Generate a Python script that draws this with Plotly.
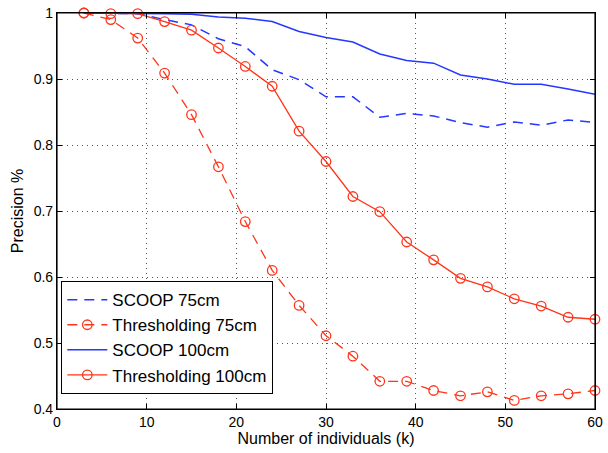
import plotly.graph_objects as go

k = [3, 6, 9, 12, 15, 18, 21, 24, 27, 30, 33, 36, 39, 42, 45, 48, 51, 54, 57, 60]
scoop_75 = [1.0, 1.0, 0.999, 0.990, 0.982, 0.961, 0.949, 0.914, 0.899, 0.873, 0.873, 0.842,
            0.848, 0.844, 0.834, 0.827, 0.835, 0.830, 0.838, 0.834]
thresh_75 = [1.0, 0.990, 0.962, 0.909, 0.846, 0.767, 0.684, 0.610, 0.557, 0.511, 0.480, 0.442,
             0.442, 0.428, 0.420, 0.426, 0.413, 0.420, 0.423, 0.428]
scoop_100 = [1.0, 1.0, 1.0, 0.999, 0.998, 0.994, 0.992, 0.987, 0.972, 0.963, 0.956, 0.938,
             0.928, 0.924, 0.906, 0.900, 0.892, 0.892, 0.885, 0.877]
thresh_100 = [1.0, 0.999, 0.999, 0.987, 0.974, 0.947, 0.919, 0.889, 0.821, 0.775, 0.722, 0.699,
              0.653, 0.626, 0.598, 0.585, 0.567, 0.556, 0.539, 0.536]

x_ticks = [0, 10, 20, 30, 40, 50, 60]
y_ticks = [0.4, 0.5, 0.6, 0.7, 0.8, 0.9, 1.0]
y_labels = ["0.4", "0.5", "0.6", "0.7", "0.8", "0.9", "1"]

BLUE = "#2438ff"
RED = "#ff3419"
FONT = "Liberation Sans, Arial, sans-serif"
DASH = "10px,7px"

fig = go.Figure()
fig.add_trace(go.Scatter(x=k, y=scoop_75, mode="lines", name="SCOOP 75cm",
                         line=dict(color=BLUE, width=1.5, dash=DASH), cliponaxis=False))
fig.add_trace(go.Scatter(x=k, y=thresh_75, mode="lines+markers", name="Thresholding 75cm",
                         line=dict(color=RED, width=1.3, dash=DASH), cliponaxis=False,
                         marker=dict(symbol="circle-open", size=9.5, color=RED, line=dict(width=1.3))))
fig.add_trace(go.Scatter(x=k, y=scoop_100, mode="lines", name="SCOOP 100cm",
                         line=dict(color=BLUE, width=1.5), cliponaxis=False))
fig.add_trace(go.Scatter(x=k, y=thresh_100, mode="lines+markers", name="Thresholding 100cm",
                         line=dict(color=RED, width=1.3), cliponaxis=False,
                         marker=dict(symbol="circle-open", size=9.5, color=RED, line=dict(width=1.3))))

axis_common = dict(
    showline=True, linecolor="black", linewidth=1.2,
    ticks="inside", ticklen=5, tickcolor="black", tickwidth=1,
    zeroline=False, tickfont=dict(family=FONT, size=14, color="black"),
    ticklabeloverflow="allow",
)
grid = dict(showgrid=True, gridcolor="#555555", gridwidth=1, griddash="1px,4px")

fig.update_layout(
    xaxis=dict(range=[0, 60], tickvals=x_ticks,
               title=dict(text="Number of individuals (k)", font=dict(family=FONT, size=16, color="black"), standoff=2),
               **axis_common, **grid),
    yaxis=dict(range=[0.4, 1.0], tickvals=y_ticks, ticktext=y_labels,
               title=dict(text="Precision %", font=dict(family=FONT, size=16, color="black"), standoff=6),
               **axis_common, **grid),
    xaxis2=dict(range=[0, 60], tickvals=x_ticks, overlaying="x", side="top", matches="x",
                showticklabels=False, showgrid=False, **axis_common),
    yaxis2=dict(range=[0.4, 1.0], tickvals=y_ticks, overlaying="y", side="right", matches="y",
                showticklabels=False, showgrid=False, **axis_common),
)

# invisible trace to activate the mirrored axes
fig.add_trace(go.Scatter(x=[k[0]], y=[thresh_100[0]], xaxis="x2", yaxis="y2", mode="markers",
                         marker=dict(opacity=0), showlegend=False, hoverinfo="skip"))

fig.add_shape(type="rect", xref="x domain", yref="y domain", x0=0, x1=1, y0=0, y1=1,
              line=dict(color="black", width=1.2), layer="above")

fig.update_layout(
    width=608, height=453,
    margin=dict(l=57, r=10, t=5, b=44),
    paper_bgcolor="white", plot_bgcolor="white",
    font=dict(family=FONT, color="black"),
    legend=dict(x=0.008, y=0.323, xanchor="left", yanchor="top",
                bgcolor="white", bordercolor="black", borderwidth=1,
                font=dict(family=FONT, size=17, color="black"),
                tracegroupgap=0, itemwidth=40),
)

fig.write_html("out.html", config={"displayModeBar": False},
               post_script="document.body.style.margin='0';document.body.style.overflow='hidden';")
